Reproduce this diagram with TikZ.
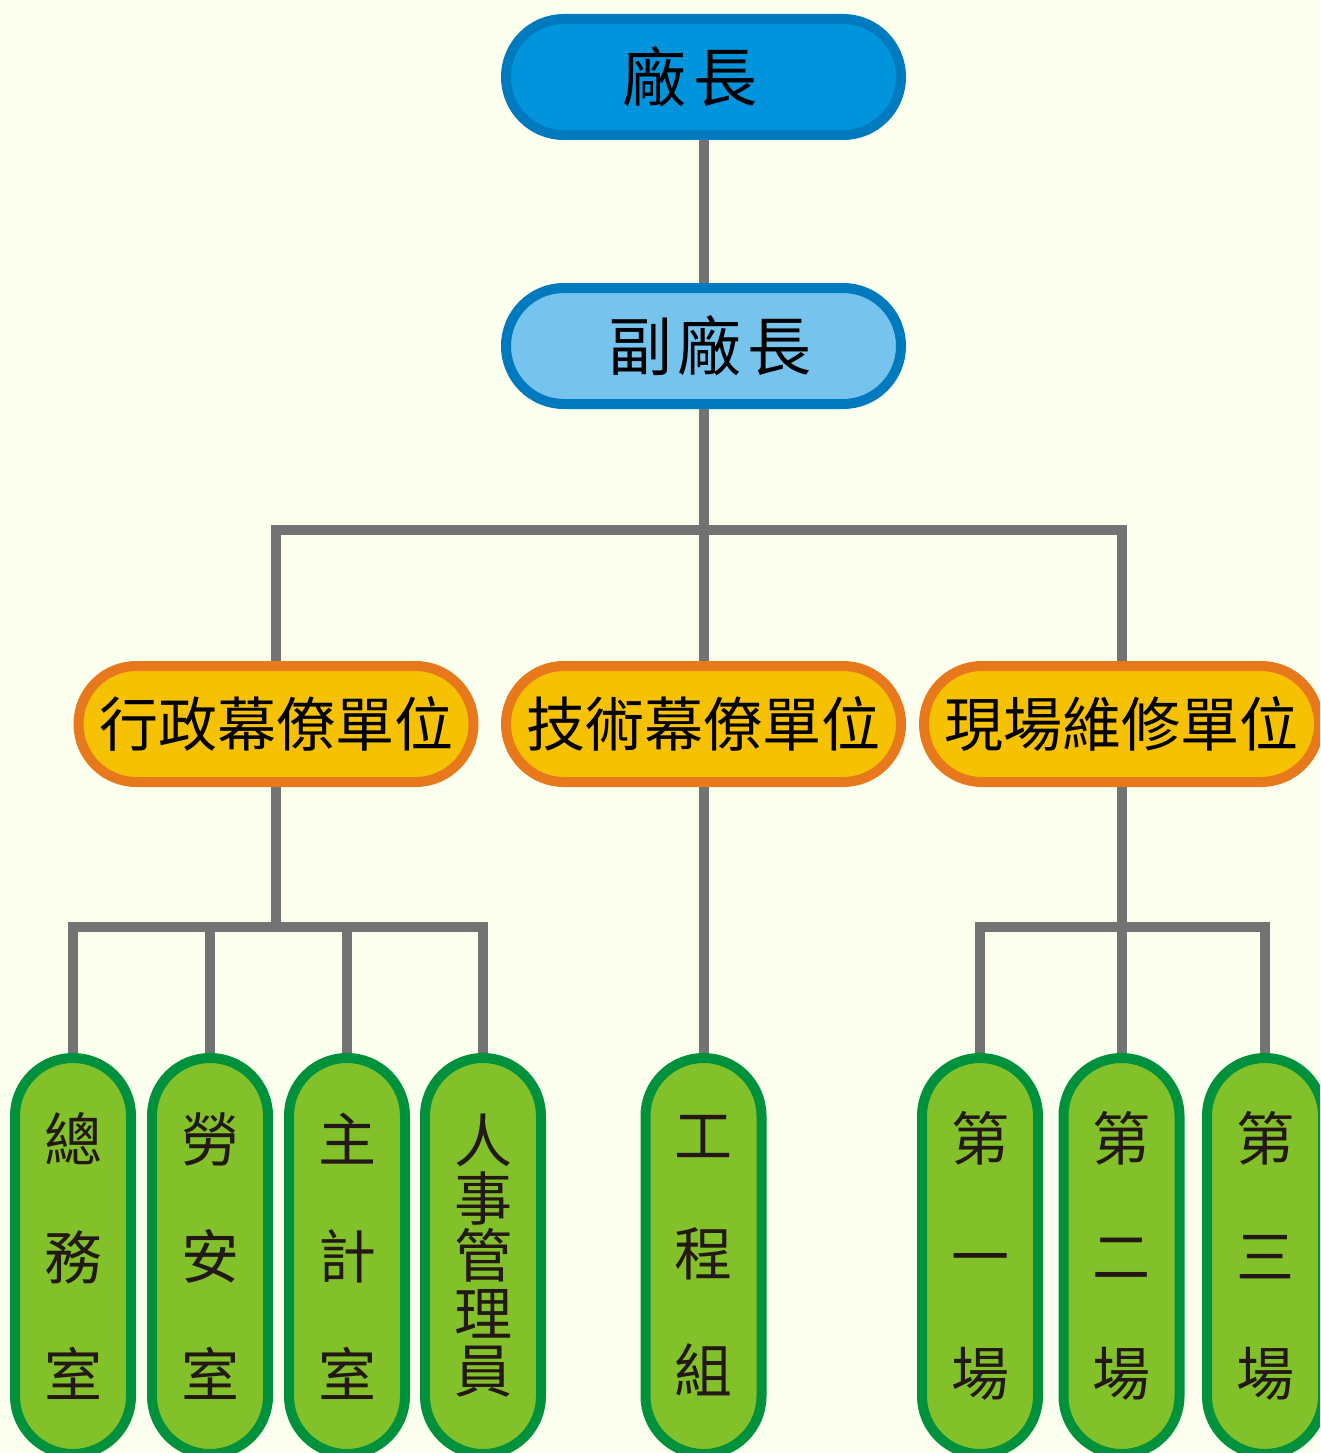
\documentclass[tikz,border=0pt]{standalone}
\usepackage{fontspec}
\newfontfamily\cjk{Noto Sans CJK TC}
\pgfdeclarelayer{bg}
\pgfdeclarelayer{lines}
\pgfsetlayers{bg,lines,main}
\definecolor{bgc}{RGB}{253,255,238}
\definecolor{topfill}{RGB}{0,148,220}
\definecolor{blueline}{RGB}{0,122,190}
\definecolor{subfill}{RGB}{118,195,238}
\definecolor{midfill}{RGB}{246,193,0}
\definecolor{midline}{RGB}{232,120,28}
\definecolor{lowfill}{RGB}{130,193,42}
\definecolor{lowline}{RGB}{0,145,60}
\definecolor{conncol}{RGB}{115,115,115}
\definecolor{lowtext}{RGB}{35,24,21}
\begin{document}
\begin{tikzpicture}[x=1pt,y=-1pt,
  conn/.style={draw=conncol,line width=10pt},
  hbox/.style={rectangle,rounded corners=57.9pt,minimum width=395pt,minimum height=116pt,line width=10pt,inner sep=0pt,text=black},
  topbox/.style={hbox,draw=blueline,fill=topfill,font=\cjk\fontsize{64}{76}\selectfont},
  subbox/.style={hbox,draw=blueline,fill=subfill,font=\cjk\fontsize{64}{76}\selectfont},
  midbox/.style={hbox,draw=midline,fill=midfill,font=\cjk\fontsize{59}{70}\selectfont},
  vbox/.style={rectangle,rounded corners=57.9pt,minimum width=116pt,minimum height=396pt,line width=10pt,inner sep=0pt,draw=lowline,fill=lowfill,text=lowtext,align=center},
  vtext/.style={vbox,font=\cjk\fontsize{58}{117.5}\selectfont},
  vtight/.style={vbox,font=\cjk\fontsize{58}{57.5}\selectfont}
]
\useasboundingbox (0,0) rectangle (1320,1453);
\begin{pgfonlayer}{bg}
\fill[bgc] (0,0) rectangle (1320,1453);
\end{pgfonlayer}
\clip (0,0) rectangle (1320,1453);

\node[topbox] (top) at (703.5,77) {廠\hspace{7pt}長\hspace*{27pt}\null};
\node[subbox] (sub) at (703.5,346) {\hspace*{13pt}副\hspace{6pt}廠\hspace{6pt}長};

\node[midbox] (m1) at (276,724) {行政幕僚單位};
\node[midbox] (m2) at (703.5,724) {技術幕僚單位};
\node[midbox] (m3) at (1121.5,724) {現場維修單位};

\node[vtext] (b1) at (73,1256) {總\\務\\室};
\node[vtext] (b2) at (210,1256) {勞\\安\\室};
\node[vtext] (b3) at (347,1256) {主\\計\\室};
\node[vtight] (b4) at (483,1256) {人\\事\\管\\理\\員};
\node[vtext] (b5) at (703.5,1256) {工\\程\\組};
\node[vtext] (b6) at (980,1256) {第\\一\\場};
\node[vtext] (b7) at (1121.5,1256) {第\\二\\場};
\node[vtext] (b8) at (1265,1256) {第\\三\\場};

\coordinate (j1) at (703.5,530);
\coordinate (j2) at (276,927);
\coordinate (j3) at (1121.5,927);

\begin{pgfonlayer}{lines}
\draw[conn] (top.center) -- (sub.center);
\draw[conn] (sub.center) -- (j1);
\draw[conn] (m1.center) |- (m3.center |- j1) -- (m3.center);
\draw[conn] (j1) -- (m2.center);
\draw[conn] (m1.center) -- (j2);
\draw[conn] (b1.center) |- (b4.center |- j2) -- (b4.center);
\draw[conn] (b2.center |- j2) -- (b2.center);
\draw[conn] (b3.center |- j2) -- (b3.center);
\draw[conn] (m2.center) -- (b5.center);
\draw[conn] (m3.center) -- (b7.center);
\draw[conn] (b6.center) |- (b8.center |- j3) -- (b8.center);
\end{pgfonlayer}
\end{tikzpicture}
\end{document}
